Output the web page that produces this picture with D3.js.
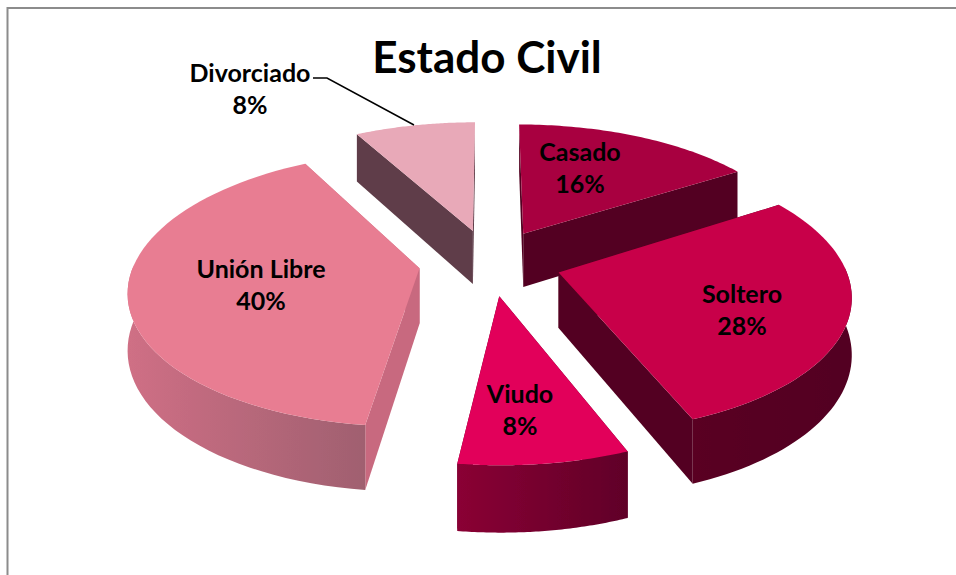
<!DOCTYPE html>
<html lang="en">
<head>
<meta charset="utf-8">
<title>Estado Civil</title>
<script src="https://d3js.org/d3.v7.min.js"></script>
<style>
  html, body { margin: 0; background: #fff; }
  text { font-family: Lato, "Open Sans", sans-serif; font-weight: bold; fill: #000; text-anchor: middle; }
</style>
</head>
<body>
<script>
// data
var categories = ["Casado", "Soltero", "Viudo", "Unión Libre", "Divorciado"];
var percents = [16, 28, 8, 40, 8];

// look of each slice, same order as categories
var topColors = ["#a8003f", "#c8004a", "#e2005a", "#e87d92", "#e8a9b8"];
var rimLeft = ["#5e0024", "#5a0022", "#8a0034", "#cf6f85", "#73505c"];
var rimRight = ["#520020", "#520020", "#600028", "#a06070", "#5e3c48"];
var cutColors = ["#520020", "#520020", "#600028", "#c8697f", "#5e3c48"];

var w = 956, h = 575;

// "3D" camera for the pie
var cx = 490, cy = 262;
var R0 = 285, tilt = 133, persp = 0.147, depth = 55, explode = 0.25;

function project(u, v, z) {
  var s = 1 / (1 - persp * v);
  return [cx + R0 * u * s, cy + tilt * v * s + depth * z * s];
}

var svg = d3.select("body").append("svg")
  .attr("width", w).attr("height", h)
  .style("display", "block");

var defs = svg.append("defs");

// the reference is a slightly soft picture
defs.append("filter").attr("id", "soft")
  .append("feGaussianBlur").attr("stdDeviation", 0.5);

// frame
svg.append("path")
  .attr("d", d3.line()([[7.5, h], [7.5, 8], [w, 8]]))
  .attr("fill", "none").attr("stroke", "#8c8c8c").attr("stroke-width", 2);

var pie = d3.pie().sort(null).value(function(d) { return d; });
var arcs = pie(percents);

// sample a slice edge in disc coordinates
function outline(d) {
  var mid = (d.startAngle + d.endAngle) / 2;
  var ox = Math.sin(mid) * explode, oy = -Math.cos(mid) * explode;
  var ang = d3.range(0, 61).map(function(i) {
    return d.startAngle + (d.endAngle - d.startAngle) * i / 60;
  });
  return {
    apex: [ox, oy],
    rim: ang.map(function(a) { return [ox + Math.sin(a), oy - Math.cos(a)]; }),
    ang: ang
  };
}

var line = d3.line();
function face(pts, z) {
  return pts.map(function(p) { return project(p[0], p[1], z); });
}
function wall(pts) {
  return line(face(pts, 0).concat(face(pts.slice().reverse(), 1))) + "Z";
}

var pieGroup = svg.append("g").attr("filter", "url(#soft)");

// far slices first so the near ones overlap them
var order = [4, 0, 3, 1, 2];

order.forEach(function(i) {
  var d = arcs[i], o = outline(d);
  var g = pieGroup.append("g");
  var first = o.rim[0], last = o.rim[o.rim.length - 1];

  // horizontal shading across the rim
  var xs = face(o.rim, 0).map(function(p) { return p[0]; });
  var gid = "rim" + i;
  var grad = defs.append("linearGradient").attr("id", gid)
    .attr("gradientUnits", "userSpaceOnUse")
    .attr("x1", d3.min(xs)).attr("x2", d3.max(xs)).attr("y1", 0).attr("y2", 0);
  grad.append("stop").attr("offset", 0).attr("stop-color", rimLeft[i]);
  grad.append("stop").attr("offset", 1).attr("stop-color", rimRight[i]);

  // the two cut faces
  g.append("path").attr("d", wall([o.apex, first])).attr("fill", cutColors[i]);
  g.append("path").attr("d", wall([o.apex, last])).attr("fill", cutColors[i]);

  // rim: only the part facing the viewer
  var front = o.rim.filter(function(p, k) { return Math.cos(o.ang[k]) < 0.05; });
  if (front.length > 1) {
    g.append("path").attr("d", wall(front)).attr("fill", "url(#" + gid + ")");
  }

  // top
  g.append("path")
    .attr("d", line(face([o.apex].concat(o.rim), 0)) + "Z")
    .attr("fill", topColors[i]);
});

// labels
var labelPos = [[580, 152], [742, 294], [520, 394], [261, 269], [250, 73]];
var labels = svg.append("g").selectAll("text")
  .data(categories).enter().append("text")
  .attr("font-size", 25)
  .attr("x", function(d, i) { return labelPos[i][0]; })
  .attr("y", function(d, i) { return labelPos[i][1]; })
  .attr("dy", "0.35em");
labels.append("tspan").text(function(d) { return d; });
labels.append("tspan")
  .attr("x", function(d, i) { return labelPos[i][0]; })
  .attr("dy", 32)
  .text(function(d, i) { return percents[i] + "%"; });

// leader line for Divorciado
svg.append("path")
  .attr("d", d3.line()([[313, 78], [327, 78], [414, 125]]))
  .attr("fill", "none").attr("stroke", "#000").attr("stroke-width", 1.5);

// title
svg.append("text")
  .attr("x", 487).attr("y", 73)
  .attr("font-size", 44)
  .text("Estado Civil");
</script>
</body>
</html>
